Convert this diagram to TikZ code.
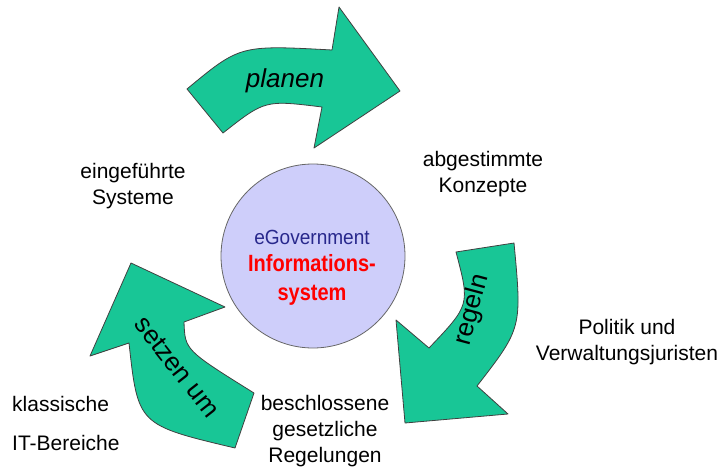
\documentclass[tikz,border=0pt]{standalone}
\usepackage{fontspec}
\setmainfont{Liberation Sans}
\newfontfamily\narrowbold{Liberation Sans}[FakeStretch=0.85]
\newfontfamily\narrowreg{Liberation Sans}[FakeStretch=0.93]
\definecolor{pfeilgruen}{RGB}{24,198,150}
\definecolor{kreisblau}{RGB}{206,206,250}
\definecolor{textblau}{RGB}{40,40,140}
\begin{document}
\begin{tikzpicture}[x=1pt, y=-1pt, line join=round, line cap=round,
	pfeil/.style={draw=black!75, fill=pfeilgruen, line width=0.8pt},
	txt/.style={font=\fontsize{21}{26}\selectfont, align=center, inner sep=0pt},
	pfeiltxt/.style={font=\fontsize{26}{30}\selectfont, inner sep=0pt}]
		\useasboundingbox (0,0) rectangle (725,468);
		% Kreis in der Mitte
		\node[circle, draw=black!60, fill=kreisblau, line width=0.8pt, minimum size=184pt, inner sep=0pt] (kreis) at (313,256) {};
		\node[font=\narrowreg\fontsize{20.5}{22}\selectfont, text=textblau, inner sep=0pt] (egov) at (312,237) {eGovernment};
		\node[font=\narrowbold\bfseries\fontsize{23.5}{29}\selectfont, text=red, align=center, inner sep=0pt] (infosys) at (312,280) {Informations-\\system};
		% Pfeile
		\draw[pfeil] (187,89) .. controls (240,45) .. (332,50) -- (339,7) -- (400,91) -- (314,148) -- (322,107) .. controls (265,100) .. (223,133) -- cycle;
		\draw[pfeil] (456,252) -- (514,243) .. controls (522,328) .. (477,386) -- (508,414) -- (405,423) -- (396,320) -- (429,348) .. controls (470,305) .. (456,252) -- cycle;
		\draw[pfeil] (235,448) -- (254,393) .. controls (185,350) .. (184,322) -- (225,307) -- (131,263) -- (90,356) -- (129,343) .. controls (138,425) .. (235,448) -- cycle;
		\node[pfeiltxt, font=\fontsize{26}{30}\selectfont\itshape] (planen) at (285,81) {planen};
		\node[pfeiltxt, rotate=75] (regeln) at (472,310) {regeln};
		\node[pfeiltxt, rotate=-52] (setzen) at (177,367) {setzen um};
		% Beschriftungen
		\node[txt] (eingefuehrt) at (133,186) {eingeführte\\Systeme};
		\node[txt] (abgestimmt) at (483,174) {abgestimmte\\Konzepte};
		\node[txt] (politik) at (627,342) {Politik und\\Verwaltungsjuristen};
		\node[txt] (beschlossen) at (325,431) {beschlossene\\gesetzliche\\Regelungen};
		\node[txt, anchor=west] (klassisch) at (12,404) {klassische};
		\node[txt, anchor=west] (itbereich) at (12,443) {IT-Bereiche};
\end{tikzpicture}
\end{document}
